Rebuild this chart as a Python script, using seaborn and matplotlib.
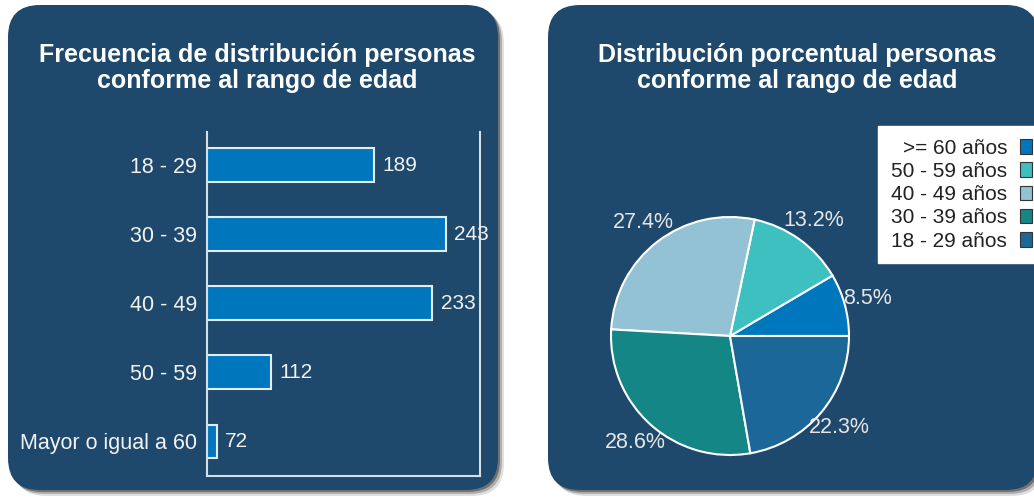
import matplotlib
matplotlib.use('Agg')
import matplotlib.pyplot as plt
import seaborn as sns
import pandas as pd
from matplotlib.patches import FancyBboxPatch

sns.set_theme(style='white')
plt.rcParams['font.family'] = ['Liberation Sans', 'DejaVu Sans']

# datos
age_groups = ['18 - 29', '30 - 39', '40 - 49', '50 - 59', 'Mayor o igual a 60']
counts = [189, 243, 233, 112, 72]
pie_labels = ['>= 60 años', '50 - 59 años', '40 - 49 años', '30 - 39 años', '18 - 29 años']
pie_counts = counts[::-1]
pie_colors = ['#0077BD', '#3EC0C0', '#93C2D4', '#148686', '#1B6797']

title_left = ['Frecuencia de distribución personas', 'conforme al rango de edad']
title_right = ['Distribución porcentual personas', 'conforme al rango de edad']

panel_color = '#1E496C'
text_color = '#F2F2F2'

W, H = 1034, 498
fig = plt.figure(figsize=(W / 100, H / 100), dpi=100)
fig.patch.set_facecolor('white')

# fondo: paneles redondeados con sombra
bg = fig.add_axes([0, 0, 1, 1], zorder=-10)
bg.set_xlim(0, W)
bg.set_ylim(H, 0)
bg.axis('off')

for x0 in [8, 548]:
    for off, a in [(6, 0.12), (4, 0.22), (2, 0.35)]:
        bg.add_patch(FancyBboxPatch((x0 + off, 5 + off), 490, 485, boxstyle='round,pad=0,rounding_size=32',
                                    facecolor='black', edgecolor='none', alpha=a))
    bg.add_patch(FancyBboxPatch((x0, 5), 490, 485, boxstyle='round,pad=0,rounding_size=32',
                                facecolor=panel_color, edgecolor='none'))

# titulos
for lines, cx in [(title_left, 257), (title_right, 797)]:
    for line, base in zip(lines, [62, 88]):
        fig.text(cx / W, 1 - base / H, line, ha='center', va='baseline', color='white',
                 fontsize=18, fontweight='bold')

# barras
ax1 = fig.add_axes([207 / W, (H - 476) / H, 273 / W, 344 / H])
ax1.set_facecolor('none')
df = pd.DataFrame({'edad': age_groups, 'personas': counts})
sns.barplot(data=df, x='personas', y='edad', orient='h', color='#0077BD', saturation=1,
            width=0.49, edgecolor='#E4ECF2', linewidth=1.5, ax=ax1)
ax1.set_xlim(64.5, 268.5)
ax1.set_ylim(4.5, -0.48)
ax1.set_xlabel('')
ax1.set_ylabel('')
ax1.set_xticks([])
ax1.tick_params(axis='y', length=0, pad=7, labelsize=15.5, labelcolor=text_color)
for side in ['left', 'right', 'bottom']:
    ax1.spines[side].set_visible(True)
    ax1.spines[side].set_color('#D6DEE6')
    ax1.spines[side].set_linewidth(1.5)
ax1.spines['top'].set_visible(False)
ax1.bar_label(ax1.containers[0], padding=6, color=text_color, fontsize=15)

# torta
ax2 = fig.add_axes([(730 - 119) / W, (H - 336 - 119) / H, 238 / W, 238 / H])
wedges, _, pcts = ax2.pie(pie_counts, colors=pie_colors, startangle=0, counterclock=True,
                          autopct='%1.1f%%', pctdistance=1.2,
                          wedgeprops=dict(edgecolor='white', linewidth=1.5, clip_on=False),
                          textprops=dict(color='#E6E6E6', fontsize=15.5))
ax2.set_xlim(-1, 1)
ax2.set_ylim(-1, 1)
ax2.set_aspect('equal')

leg = ax2.legend(wedges, pie_labels, loc='upper left', bbox_to_anchor=(878 / W, 1 - 126 / H),
                 bbox_transform=fig.transFigure, markerfirst=False, frameon=True, fancybox=False,
                 facecolor='white', edgecolor='white', framealpha=1, fontsize=15,
                 labelspacing=0.2, handlelength=0.6, handleheight=0.7, handletextpad=0.6,
                 borderpad=0.62, borderaxespad=0)
for txt in leg.get_texts():
    txt.set_color('#222222')
for p in leg.get_patches():
    p.set_edgecolor('#333333')
    p.set_linewidth(0.8)

fig.savefig('out.png', dpi=100)
